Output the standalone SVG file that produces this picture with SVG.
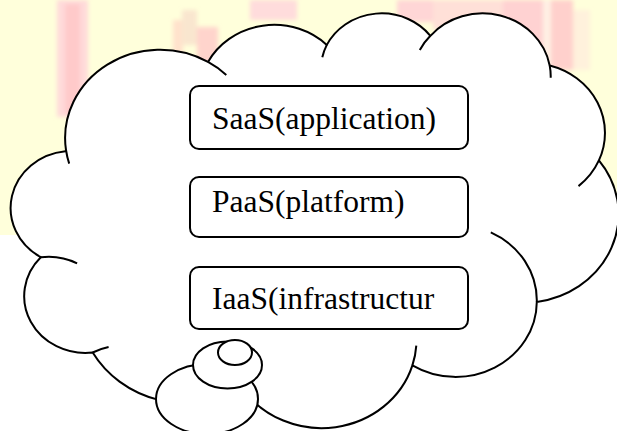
<svg xmlns="http://www.w3.org/2000/svg" width="617" height="431" viewBox="0 0 617 431">
  <defs>
    <filter id="soft" x="-30%" y="-30%" width="160%" height="160%">
      <feGaussianBlur stdDeviation="2"/>
    </filter>
  </defs>
  <style>
    .outline { fill: #ffffff; stroke: #000000; stroke-width: 2; stroke-linejoin: round; }
    .crease { fill: none; stroke: #000000; stroke-width: 2; }
    .bubble { fill: #ffffff; stroke: #000000; stroke-width: 2; }
    .box { fill: #ffffff; stroke: #000000; stroke-width: 2; }
    .label { font-family: "Liberation Serif", "Times New Roman", serif; font-size: 31.5px; fill: #000000; }
  </style>

  <!-- backdrop: pale yellow band with faded pink marks, white below -->
  <rect x="0" y="0" width="617" height="431" fill="#ffffff"/>
  <rect x="0" y="0" width="617" height="235" fill="#ffffdb"/>
  <g filter="url(#soft)">
    <rect x="57" y="0" width="31" height="117" fill="#ffdada"/>
    <rect x="65" y="4" width="15" height="110" fill="#ffcaca"/>
    <rect x="173" y="20" width="10" height="45" fill="#ffe2cc"/>
    <rect x="182" y="10" width="15" height="35" fill="#f9e6cf"/>
    <rect x="197" y="27" width="21" height="45" fill="#ffd4cc"/>
    <rect x="250" y="0" width="47" height="20" fill="#ffdcdc"/>
    <rect x="397" y="0" width="43" height="22" fill="#ffd6d6"/>
    <rect x="433" y="0" width="70" height="30" fill="#ffe0d8"/>
    <rect x="503" y="0" width="40" height="75" fill="#ffd2d2"/>
    <rect x="543" y="0" width="8" height="70" fill="#fff0e4"/>
    <rect x="551" y="0" width="22" height="70" fill="#ffd0cc"/>
    <rect x="573" y="10" width="17" height="60" fill="#fff1dc"/>
  </g>

  <!-- thought cloud with its trailing bubbles -->
  <g id="cloud">
    <path class="outline" d="M66,150
      A94.9,88.22 0 0 1 208,61.9
      A74.94,69.76 0 0 1 326.8,44.9
      A61.34,57.07 0 0 1 430.4,35.8
      A68.26,63.31 0 0 1 549.7,65.5
      A74.94,69.82 0 0 1 598.9,160.4
      A95.21,88.51 0 0 1 536.8,301.9
      A81.3,75.52 0 0 1 412.4,365.4
      A94.89,88.46 0 0 1 242.8,388.9
      A108.49,101.21 0 0 1 92.7,352.5
      A61.27,56.81 0 0 1 40.8,257.2
      A61.06,57.07 0 0 1 65.4,151.2 Z"/>
    <path class="crease" d="M69.2,163.6 A94.9,88.22 0 0 1 66,150
      M208,61.9 A94.9,88.22 0 0 1 226.3,74.9
      M322.3,57.3 A61.34,57.07 0 0 1 326.8,44.9
      M419.8,49.9 A68.26,63.31 0 0 1 430.4,35.8
      M549.7,65.5 A68.26,63.31 0 0 1 550.7,77.7
      M598.9,160.4 A74.94,69.82 0 0 1 578.5,186.1
      M490.8,232.4 A81.3,75.52 0 0 1 536.8,301.9
      M416.3,345.6 A94.89,88.46 0 0 1 412.4,365.4
      M92.7,352.5 A61.27,56.81 0 0 1 108.6,347
      M40.8,257.2 A61.06,57.07 0 0 1 77.1,263.3"/>
    <ellipse class="bubble" cx="207" cy="399" rx="51" ry="35"/>
    <ellipse class="bubble" cx="227.5" cy="365" rx="34.5" ry="23.5"/>
    <ellipse class="bubble" cx="235" cy="352.5" rx="17" ry="12.5"/>
  </g>

  <g id="connectors"></g>

  <g id="saas">
    <rect class="box" x="190" y="86" width="278" height="63" rx="9" ry="9"/>
    <text class="label" x="212" y="129">SaaS(application)</text>
  </g>
  <g id="paas">
    <rect class="box" x="190" y="177" width="278" height="60" rx="9" ry="9"/>
    <text class="label" x="212" y="212">PaaS(platform)</text>
  </g>
  <g id="iaas">
    <rect class="box" x="190" y="267" width="278" height="62" rx="9" ry="9"/>
    <text class="label" x="212" y="309">IaaS(infrastructur</text>
  </g>
</svg>
